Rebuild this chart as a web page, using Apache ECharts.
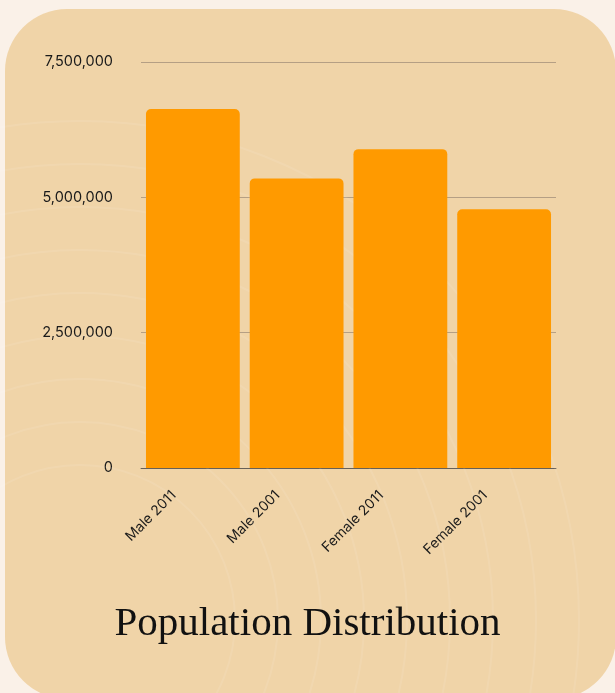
<!DOCTYPE html>
<html>
<head>
<meta charset="utf-8">
<script src="https://cdn.jsdelivr.net/npm/echarts@6/dist/echarts.min.js"></script>
<style>
  html, body { margin: 0; padding: 0; background: #faf1e8; }
  #chart { width: 615px; height: 693px; }
</style>
</head>
<body>
<div id="chart"></div>
<script>
var categories = ['Male 2011', 'Male 2001', 'Female 2011', 'Female 2001'];
var population = [6630000, 5350000, 5890000, 4780000];
var yTicks = [0, 2500000, 5000000, 7500000];

var chart = echarts.init(document.getElementById('chart'));

// faint rings in the card background
var rings = [];
for (var i = 0; i < 9; i++) {
  rings.push({
    type: 'circle',
    z: 1,
    silent: true,
    shape: { cx: 80, cy: 620, r: 155 + i * 43 },
    style: { fill: null, stroke: 'rgba(255,255,255,0.09)', lineWidth: 2 }
  });
}

var option = {
  backgroundColor: '#faf1e8',
  animation: false,
  graphic: [{
    type: 'rect',
    z: 0,
    silent: true,
    shape: { x: 5, y: 9, width: 611, height: 690, r: 62 },
    style: { fill: '#f0d4a8' }
  }].concat(rings).concat([{
    type: 'text',
    z: 10,
    left: 'center',
    top: 604,
    style: {
      text: 'Population Distribution',
      font: '41px "Liberation Serif", serif',
      fill: '#111'
    }
  }]),
  grid: { left: 141, right: 59, top: 62, bottom: 225, containLabel: false },
  xAxis: {
    type: 'category',
    data: categories,
    axisTick: { show: false },
    axisLine: { show: true, lineStyle: { color: 'rgba(70,70,70,0.7)', width: 1 } },
    axisLabel: {
      rotate: 45,
      interval: 0,
      margin: 6,
      padding: [0, 27, 22, 0],
      color: '#1a1a1a',
      fontSize: 14,
      fontFamily: 'Inter, sans-serif'
    }
  },
  yAxis: {
    type: 'value',
    min: yTicks[0],
    max: yTicks[yTicks.length - 1],
    interval: 2500000,
    axisLine: { show: false },
    axisTick: { show: false },
    splitLine: { lineStyle: { color: '#b59f84', width: 1 } },
    axisLabel: {
      margin: 28,
      color: '#1a1a1a',
      fontSize: 14.5,
      fontFamily: 'Inter, sans-serif',
      formatter: function (v) { return v.toLocaleString('en-US'); }
    }
  },
  series: [{
    type: 'bar',
    data: population,
    barCategoryGap: '9.6%',
    itemStyle: { color: '#ff9a00', borderRadius: [5, 5, 0, 0] }
  }]
};

chart.setOption(option);
</script>
</body>
</html>
